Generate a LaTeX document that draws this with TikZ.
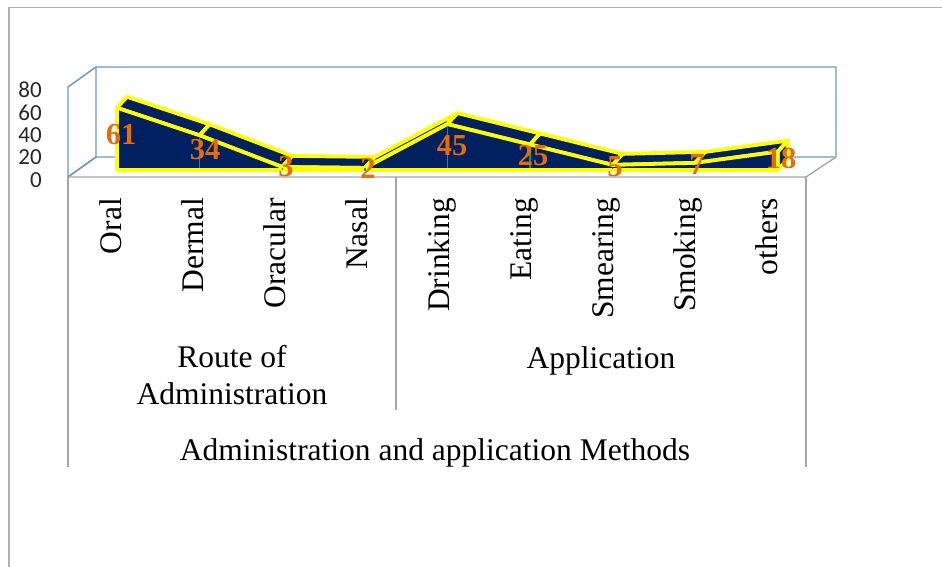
\documentclass[tikz,border=0pt]{standalone}
\usepackage{fontspec}
\setmainfont{Liberation Serif}
\newfontfamily\axisfont{Carlito}
\usetikzlibrary{calc}
\definecolor{navy}{RGB}{0,32,96}
\definecolor{ribbonyellow}{RGB}{255,255,0}
\definecolor{labelorange}{RGB}{228,108,10}
\definecolor{wallblue}{RGB}{110,150,200}
\definecolor{tablegray}{RGB}{166,166,166}
\definecolor{dropgreen}{RGB}{0,160,90}
\tikzset{
  wall/.style={draw=wallblue, line width=1.4pt},
  tableline/.style={draw=tablegray, line width=1.3pt},
  ribbon/.style={fill=navy, draw=ribbonyellow, line width=3.8pt, line join=round},
  dropline/.style={draw=dropgreen, line width=1.4pt},
  datalabel/.style={inner sep=0pt, text=labelorange, font=\fontsize{30.5}{33}\selectfont\bfseries},
  axislabel/.style={inner sep=0pt, anchor=east, font=\axisfont\fontsize{23}{26}\selectfont, text=black!85},
  catlabel/.style={inner sep=0pt, rotate=90, anchor=base east, font=\fontsize{31.5}{37}\selectfont},
  grouplabel/.style={inner sep=0pt, anchor=base, font=\fontsize{31.5}{37}\selectfont}
}
\begin{document}
\begin{tikzpicture}[x=1pt,y=-1pt]
\useasboundingbox (0,0) rectangle (942,567);
% outer chart border
\draw[draw=tablegray!90, line width=1.5pt] (9,567) -- (9,7.5) -- (942,7.5);
% walls
\coordinate (wFT) at (68,87);
\coordinate (wFB) at (68,177);
\coordinate (wBT) at (96,67);
\coordinate (wBB) at (96,157);
\coordinate (wRT) at (836,67);
\coordinate (wRB) at (836,157);
\coordinate (fR) at (806,177);
\draw[wall] (wFB) -- (wFT) -- (wBT) -- (wRT) -- (wRB) -- (wBB) -- cycle;
\draw[wall] (wBT) -- (wBB) -- (wFB);
% floor front / table
\draw[tableline] (wFB) -- (fR) -- (wRB);
\coordinate (t1) at (68,467);
\coordinate (t2) at (396,177);
\coordinate (t3) at (396,410);
\coordinate (t4) at (806,467);
\draw[tableline] (wFB) -- (t1);
\draw[tableline] (t2) -- (t3);
\draw[tableline] (fR) -- (t4);
% ribbon points
\foreach \v [count=\i from 0] in {61,34,3,2,45,25,5,7,18} {
  \coordinate (f\i) at ({117+82.6*\i},{170-1.02*\v});
  \coordinate (b\i) at ({127+82.6*\i},{159-1.02*\v});
  \coordinate (g\i) at ({117+82.6*\i},170);
}
\coordinate (h8) at ({127+82.6*8},159);
% top bands
\foreach \i [evaluate=\i as \j using int(\i+1)] in {0,...,7} {
  \filldraw[ribbon] (f\i) -- (f\j) -- (b\j) -- (b\i) -- cycle;
}
% right end face
\filldraw[ribbon] (f8) -- (b8) -- (h8) -- (g8) -- cycle;
% front face
\filldraw[ribbon] (g0) -- (f0) -- (f1) -- (f2) -- (f3) -- (f4) -- (f5) -- (f6) -- (f7) -- (f8) -- (g8) -- cycle;
% drop lines
\foreach \i in {1,...,7} {
  \draw[dropline] ($(f\i)+(0,3)$) -- ($(g\i)+(0,-2)$);
}
% data labels
\node[datalabel] (d0) at (121,135) {61};
\node[datalabel] (d1) at (205,150) {34};
\node[datalabel] (d2) at (286,167) {3};
\node[datalabel] (d3) at (368,168) {2};
\node[datalabel] (d4) at (452,146) {45};
\node[datalabel] (d5) at (533,156) {25};
\node[datalabel] (d6) at (615,167) {5};
\node[datalabel] (d7) at (697,165) {7};
\node[datalabel] (d8) at (781,159) {18};
% axis labels
\node[axislabel] (a80) at (42,90) {80};
\node[axislabel] (a60) at (42,112.5) {60};
\node[axislabel] (a40) at (42,135) {40};
\node[axislabel] (a20) at (42,157.5) {20};
\node[axislabel] (a0) at (42,180) {0};
% category labels
\node[catlabel] (c0) at (121,198) {Oral};
\node[catlabel] (c1) at (203,198) {Dermal};
\node[catlabel] (c2) at (285,198) {Oracular};
\node[catlabel] (c3) at (367,198) {Nasal};
\node[catlabel] (c4) at (449,198) {Drinking};
\node[catlabel] (c5) at (531,198) {Eating};
\node[catlabel] (c6) at (613,198) {Smearing};
\node[catlabel] (c7) at (695,198) {Smoking};
\node[catlabel] (c8) at (777,198) {others};
% group labels
\node[grouplabel] (route1) at (232,367) {Route of};
\node[grouplabel] (route2) at (232,404) {Administration};
\node[grouplabel] (appl) at (601,368) {Application};
\node[grouplabel] (methods) at (435,460) {Administration and application Methods};
\end{tikzpicture}
\end{document}
